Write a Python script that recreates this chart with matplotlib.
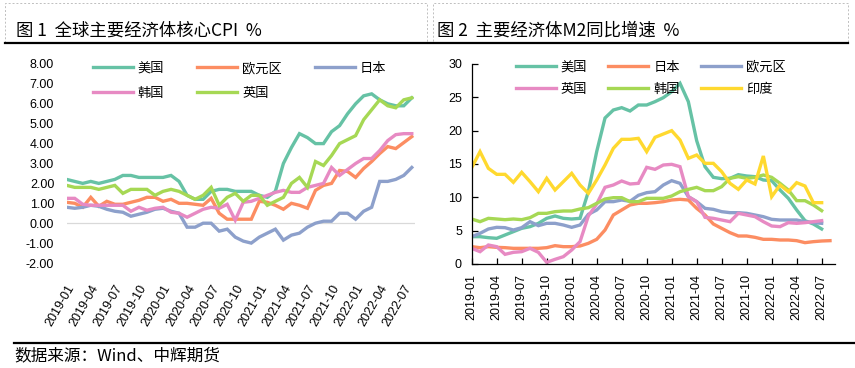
import matplotlib
matplotlib.use("Agg")
import matplotlib.pyplot as plt
from matplotlib.lines import Line2D
from matplotlib.patches import Rectangle

plt.rcParams['font.family'] = ['Liberation Sans', 'Noto Sans CJK SC', 'DejaVu Sans']
CJK = ['Noto Sans CJK SC', 'DejaVu Sans']

# months 2019-01 .. 2022-08
months = [f"{y}-{m:02d}" for y in range(2019, 2023) for m in range(1, 13)][:44]
tick_idx = list(range(0, 43, 3))

# Figure 1: core CPI, %
us_core = [2.2, 2.1, 2.0, 2.1, 2.0, 2.1, 2.2, 2.4, 2.4, 2.3, 2.3, 2.3,
           2.3, 2.4, 2.1, 1.4, 1.2, 1.2, 1.6, 1.7, 1.7, 1.6, 1.6, 1.6,
           1.4, 1.3, 1.6, 3.0, 3.8, 4.5, 4.3, 4.0, 4.0, 4.6, 4.9, 5.5,
           6.0, 6.4, 6.5, 6.2, 6.0, 5.9, 5.9, 6.3]
ez_core = [1.05, 1.0, 0.8, 1.3, 0.85, 1.1, 0.95, 0.95, 1.05, 1.15, 1.3, 1.3,
           1.1, 1.2, 1.0, 1.0, 0.95, 0.9, 1.25, 0.5, 0.2, 0.2, 0.2, 0.2,
           1.1, 1.05, 0.9, 0.7, 1.0, 0.9, 0.75, 1.65, 1.9, 2.0, 2.65, 2.6,
           2.3, 2.75, 3.1, 3.5, 3.85, 3.75, 4.05, 4.35]
jp_core = [0.8, 0.75, 0.8, 0.9, 0.85, 0.7, 0.6, 0.55, 0.35, 0.45, 0.55, 0.7,
           0.75, 0.6, 0.5, -0.2, -0.2, 0.0, 0.0, -0.4, -0.3, -0.7, -0.9, -1.0,
           -0.7, -0.5, -0.3, -0.85, -0.6, -0.5, -0.2, 0.0, 0.1, 0.1, 0.5, 0.5,
           0.2, 0.6, 0.8, 2.1, 2.1, 2.2, 2.4, 2.8]
kr_core = [1.25, 1.25, 0.95, 0.9, 0.9, 0.9, 0.9, 0.9, 0.6, 0.8, 0.65, 0.75,
           0.8, 0.55, 0.5, 0.3, 0.5, 0.7, 0.8, 0.75, 0.95, 0.15, 1.05, 1.1,
           1.25, 1.4, 1.55, 1.65, 1.55, 1.55, 1.8, 1.9, 2.0, 2.8, 2.4, 2.7,
           3.0, 3.25, 3.25, 3.65, 4.15, 4.45, 4.5, 4.5]
uk_core = [1.9, 1.8, 1.8, 1.8, 1.7, 1.8, 1.9, 1.5, 1.7, 1.7, 1.7, 1.4,
           1.6, 1.7, 1.6, 1.4, 1.2, 1.4, 1.8, 0.9, 1.3, 1.5, 1.1, 1.4,
           1.4, 0.9, 1.1, 1.3, 2.0, 2.3, 1.8, 3.1, 2.9, 3.4, 4.0, 4.2,
           4.4, 5.2, 5.7, 6.2, 5.9, 5.8, 6.2, 6.3]

# Figure 2: M2 yoy, %
us_m2 = [4.1, 4.1, 3.95, 3.85, 4.35, 4.85, 5.35, 5.6, 6.1, 6.85, 7.2,
         6.85, 6.75, 6.85, 10.85, 16.85, 21.9, 23.1, 23.45, 22.95, 23.85, 23.85,
         24.35, 24.95, 25.85, 27.1, 24.35, 18.5, 14.6, 13.0, 12.8, 12.85, 13.4, 13.2, 13.1, 12.6, 12.5,
         11.1, 9.85, 8.1, 6.5, 6.0, 5.25]
jp_m2 = [2.6, 2.45, 2.6, 2.5, 2.45, 2.35, 2.35, 2.35, 2.35, 2.45, 2.75,
         2.6, 2.6, 2.7, 3.1, 3.7, 5.1, 7.35, 8.1, 8.85, 9.1, 9.1,
         9.2, 9.35, 9.6, 9.7, 9.6, 8.35, 7.35, 6.0, 5.35, 4.7, 4.2, 4.2, 4.0, 3.7, 3.7,
         3.6, 3.6, 3.5, 3.2, 3.35, 3.45, 3.5]
ez_m2 = [4.1, 4.6, 5.25, 5.5, 5.45, 5.1, 5.45, 6.35, 5.75, 6.1, 6.1,
         5.85, 5.5, 5.85, 7.45, 8.1, 9.35, 9.35, 9.6, 9.4, 10.3, 10.7,
         10.85, 11.85, 12.5, 12.1, 10.1, 9.35, 8.35, 8.2, 7.85, 7.7, 7.7, 7.6, 7.35, 7.1, 6.7,
         6.6, 6.6, 6.6, 6.35, 6.2, 6.1]
uk_m2 = [2.35, 1.85, 2.85, 2.6, 1.45, 1.75, 1.85, 2.35, 1.75, 0.25, 0.7,
         1.1, 2.1, 3.35, 7.2, 9.0, 11.5, 11.85, 12.45, 12.0, 12.1, 14.5,
         14.2, 14.85, 14.95, 14.6, 10.1, 9.35, 7.0, 6.85, 6.6, 6.35, 7.6, 7.35, 7.1, 6.35, 5.7,
         5.6, 6.2, 6.1, 6.2, 6.35, 6.5]
kr_m2 = [6.75, 6.35, 6.85, 6.75, 6.65, 6.75, 6.65, 6.95, 7.6, 7.6, 7.85,
         7.95, 7.95, 8.25, 8.45, 9.1, 9.75, 9.95, 9.95, 9.35, 9.35, 9.85,
         9.85, 9.85, 10.2, 10.85, 11.2, 11.5, 11.0, 11.0, 11.6, 12.85, 13.1, 12.85, 13.0, 13.35, 13.0,
         12.1, 11.1, 9.5, 9.5, 8.85, 8.0]
in_m2 = [14.45, 16.85, 14.35, 13.45, 13.45, 12.25, 13.75, 12.35, 10.85, 12.85, 11.1,
         12.35, 13.6, 11.85, 10.6, 12.6, 14.85, 17.35, 18.7, 18.7, 18.85, 16.85,
         19.0, 19.5, 20.0, 18.6, 15.85, 16.35, 15.1, 15.1, 13.85, 12.1, 11.2, 12.6, 12.0, 16.2, 10.1,
         11.85, 10.85, 12.2, 11.7, 9.2, 9.2]

TEAL, ORANGE, BLUE, PINK, GREEN, YELLOW = '#66c2a5', '#fc8d62', '#8da0cb', '#e78ac3', '#a6d854', '#ffd92f'
LW = 2.4

W, H = 855, 368
fig = plt.figure(figsize=(W / 100, H / 100), dpi=100)

# ---- header / footer decorations
for x0, x1 in [(5, 427), (433, 848)]:
    fig.patches.append(Rectangle((x0 / W, 1 - 43 / H), (x1 - x0) / W, 40 / H,
                                 transform=fig.transFigure, fill=False,
                                 edgecolor='#bfbfbf', linestyle=(0, (2, 2)), linewidth=0.7))
fig.add_artist(Line2D([5 / W, 848 / W], [1 - 43 / H] * 2, color='black', lw=1.6))
fig.add_artist(Line2D([14 / W, 1.0], [1 - 343 / H] * 2, color='black', lw=1.6))
fig.text(16 / W, 1 - 31 / H, '图 1  全球主要经济体核心CPI  %', family=CJK, fontsize=12.5,
         va='center', ha='left')
fig.text(437 / W, 1 - 31 / H, '图 2  主要经济体M2同比增速  %', family=CJK, fontsize=12.5,
         va='center', ha='left')
fig.text(14 / W, 1 - 356 / H, '数据来源：Wind、中辉期货', family=CJK, fontsize=12,
         va='center', ha='left')


def row_major(ax, ncol):
    # legend fills columns first; reorder so it reads row by row like the source
    h, l = ax.get_legend_handles_labels()
    order = [i for c in range(ncol) for i in range(c, len(h), ncol)]
    return [h[i] for i in order], [l[i] for i in order]


# ---- left chart
ax1 = fig.add_axes([66.7 / W, 1 - 263 / H, (415 - 66.7) / W, 199 / H])
x1 = list(range(len(us_core)))
ax1.axhline(0, color='#d9d9d9', lw=0.9, zorder=1)
for vals, col, lab in [(us_core, TEAL, '美国'), (ez_core, ORANGE, '欧元区'), (jp_core, BLUE, '日本'),
                       (kr_core, PINK, '韩国'), (uk_core, GREEN, '英国')]:
    ax1.plot(x1, vals, color=col, lw=LW, label=lab, solid_joinstyle='miter', zorder=2)
ax1.set_xlim(0, 43.4)
ax1.set_ylim(-2, 8)
ax1.set_yticks(range(-2, 9))
ax1.set_yticklabels([f"{v:.2f}" for v in range(-2, 9)], fontsize=9)
ax1.set_xticks(tick_idx)
ax1.set_xticklabels([months[i] for i in tick_idx], fontsize=9, rotation=60,
                    ha='right', rotation_mode='anchor')
ax1.tick_params(axis='both', length=0)
ax1.tick_params(axis='y', pad=9)
ax1.tick_params(axis='x', pad=14)
for s in ax1.spines.values():
    s.set_visible(False)
h1, l1 = row_major(ax1, 3)
ax1.legend(h1, l1, ncol=3, loc='upper left', bbox_to_anchor=(93 / W, 1 - 62 / H),
           bbox_transform=fig.transFigure, frameon=False, prop={'family': CJK, 'size': 9.5},
           handlelength=3.0, handletextpad=0.4, columnspacing=2.5,
           labelspacing=0.9, borderpad=0, borderaxespad=0)

# ---- right chart
ax2 = fig.add_axes([471.7 / W, 1 - 264 / H, (835 - 471.7) / W, 200 / H])
for vals, col, lab in [(us_m2, TEAL, '美国'), (jp_m2, ORANGE, '日本'), (ez_m2, BLUE, '欧元区'),
                       (uk_m2, PINK, '英国'), (kr_m2, GREEN, '韩国'), (in_m2, YELLOW, '印度')]:
    ax2.plot(list(range(len(vals))), vals, color=col, lw=LW, label=lab, solid_joinstyle='miter')
ax2.set_xlim(0, 43.6)
ax2.set_ylim(0, 30)
ax2.set_yticks(range(0, 31, 5))
ax2.set_xticks(tick_idx)
ax2.set_xticklabels([months[i] for i in tick_idx], rotation=90, fontsize=9)
ax2.tick_params(axis='both', direction='in', length=4, width=0.9, labelsize=9)
ax2.tick_params(axis='y', pad=7)
ax2.tick_params(axis='x', pad=7)
ax2.spines['top'].set_visible(False)
ax2.spines['right'].set_visible(False)
for s in ('left', 'bottom'):
    ax2.spines[s].set_linewidth(0.9)
h2, l2 = row_major(ax2, 3)
ax2.legend(h2, l2, ncol=3, loc='upper left', bbox_to_anchor=(516 / W, 1 - 61 / H),
           bbox_transform=fig.transFigure, frameon=False, prop={'family': CJK, 'size': 9.5},
           handlelength=3.0, handletextpad=0.4, columnspacing=1.6,
           labelspacing=0.65, borderpad=0, borderaxespad=0)

fig.savefig('out.png', dpi=100)
